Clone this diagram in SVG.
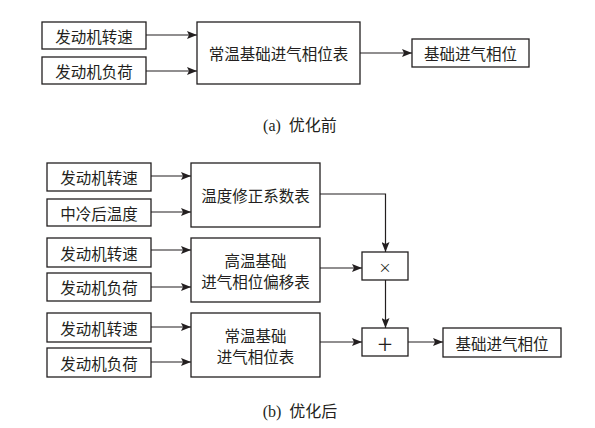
<svg xmlns="http://www.w3.org/2000/svg" width="595" height="428" viewBox="0 0 595 428">
<style>
rect{fill:#fff;stroke:#231f20;stroke-width:1.3}
text{font-family:"Noto Sans CJK SC","Noto Sans CJK JP",sans-serif;font-size:15.5px;fill:#231f20;text-anchor:middle;dominant-baseline:central}
.cap{font-family:"Liberation Serif","Noto Sans CJK SC",serif;font-size:16px}
.ln{fill:none;stroke:#231f20;stroke-width:1.2;marker-end:url(#ah)}
</style>
<defs>
<marker id="ah" viewBox="0 0 10 8" refX="10" refY="4" markerWidth="10" markerHeight="8" markerUnits="userSpaceOnUse" orient="auto">
<path d="M0,0 L10,4 L0,8 L2,4 Z" fill="#231f20"/>
</marker>
</defs>
<rect x="0" y="0" width="595" height="428" style="stroke:none"/>
<g id="a_speed"><rect x="42" y="22" width="104" height="27"/><text x="94" y="35.5">发动机转速</text></g>
<g id="a_load"><rect x="42" y="57" width="104" height="27"/><text x="94" y="70.5">发动机负荷</text></g>
<g id="a_table"><rect x="197" y="22" width="163" height="62"/><text x="278.5" y="53">常温基础进气相位表</text></g>
<g id="a_out"><rect x="412" y="39" width="117" height="28"/><text x="470.5" y="53">基础进气相位</text></g>
<text class="cap" x="300" y="125" xml:space="preserve">(a)  优化前</text>

<g id="b_speed1"><rect x="47" y="163" width="104" height="28"/><text x="99" y="177">发动机转速</text></g>
<g id="b_temp"><rect x="47" y="199" width="104" height="27"/><text x="99" y="212.5">中冷后温度</text></g>
<g id="b_corr"><rect x="191" y="163" width="129" height="64"/><text x="255.5" y="195">温度修正系数表</text></g>
<g id="b_speed2"><rect x="47" y="238" width="104" height="29"/><text x="99" y="252.5">发动机转速</text></g>
<g id="b_load2"><rect x="47" y="273" width="104" height="28"/><text x="99" y="287">发动机负荷</text></g>
<g id="b_hot"><rect x="191" y="238" width="129" height="64"/><text x="255.5" y="260">高温基础</text><text x="255.5" y="281">进气相位偏移表</text></g>
<g id="b_speed3"><rect x="47" y="313" width="104" height="29"/><text x="99" y="327.5">发动机转速</text></g>
<g id="b_load3"><rect x="47" y="348" width="104" height="29"/><text x="99" y="362.5">发动机负荷</text></g>
<g id="b_norm"><rect x="191" y="313" width="129" height="64"/><text x="255.5" y="335">常温基础</text><text x="255.5" y="356">进气相位表</text></g>
<g id="b_mul"><rect x="362" y="252" width="46" height="28"/><text x="385" y="266" style="font-size:13px">×</text></g>
<g id="b_add"><rect x="362" y="328" width="46" height="28"/><text x="385" y="342" style="font-size:27px;font-weight:300">+</text></g>
<g id="b_out"><rect x="443" y="328" width="118" height="29"/><text x="502" y="342.5">基础进气相位</text></g>
<text class="cap" x="300" y="411" xml:space="preserve">(b)  优化后</text>

<g id="connectors">
<path class="ln" d="M146,35 H197"/>
<path class="ln" d="M146,71 H197"/>
<path class="ln" d="M360,53 H412"/>
<path class="ln" d="M151,176 H191"/>
<path class="ln" d="M151,212 H191"/>
<path class="ln" d="M151,250 H191"/>
<path class="ln" d="M151,287 H191"/>
<path class="ln" d="M151,327 H191"/>
<path class="ln" d="M151,362 H191"/>
<path class="ln" d="M320,194 H385.5 V252"/>
<path class="ln" d="M320,268 H362"/>
<path class="ln" d="M385.5,280 V328"/>
<path class="ln" d="M320,342 H362"/>
<path class="ln" d="M408,342 H443"/>
</g>
</svg>
